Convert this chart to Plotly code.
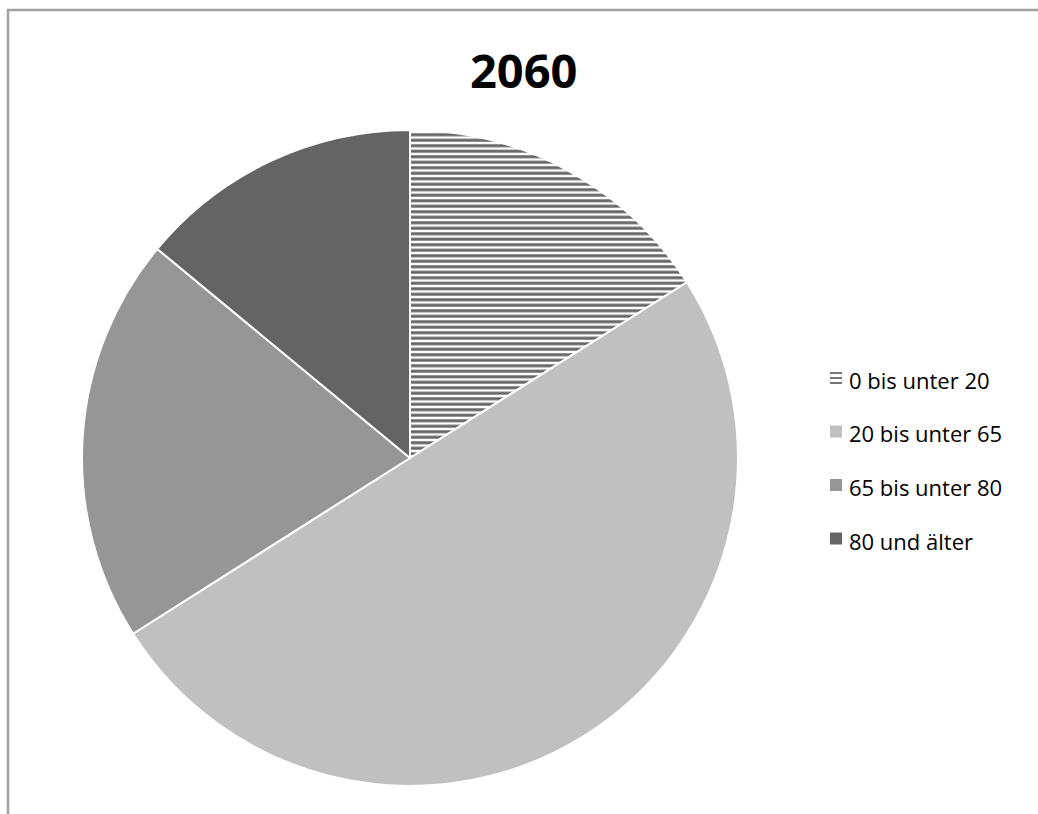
import plotly.graph_objects as go

title_text = "2060"
categories = ["0 bis unter 20", "20 bis unter 65", "65 bis unter 80", "80 und älter"]
values = [16, 50, 20, 14]
colors = ["#ffffff", "#c0c0c0", "#969696", "#646464"]
patterns = ["-", "", "", ""]

W, H = 1038, 814
cx, cy, r = 410, 458, 328

fig = go.Figure()
fig.add_trace(go.Pie(
    labels=categories,
    values=values,
    sort=False,
    direction="clockwise",
    rotation=0,
    textinfo="none",
    hoverinfo="label+percent",
    marker=dict(
        colors=colors,
        line=dict(color="#ffffff", width=2),
        pattern=dict(shape=patterns, fgcolor="#666666", bgcolor="#ffffff",
                     size=5.5, solidity=0.55, fillmode="replace"),
    ),
    domain=dict(x=[(cx - r) / W, (cx + r) / W], y=[1 - (cy + r) / H, 1 - (cy - r) / H]),
    showlegend=False,
))

shapes = [
    dict(type="rect", xref="paper", yref="paper",
         x0=8 / W, x1=1.2, y0=-0.2, y1=1 - 10 / H,
         line=dict(color="#a0a0a0", width=2.5), fillcolor="rgba(0,0,0,0)", layer="below"),
]
annotations = [
    dict(text="<b>" + title_text + "</b>", x=524 / W, y=1 - 70 / H, xref="paper", yref="paper",
         xanchor="center", yanchor="middle", showarrow=False,
         font=dict(family="Open Sans", size=47, color="#000000")),
]

leg_y = [378, 431.5, 485, 538.5]
mx0, mx1 = 830, 842
for i, (cat, col, pat) in enumerate(zip(categories, colors, patterns)):
    yc = leg_y[i]
    if pat == "-":
        for dy in (-5, 0, 5):
            shapes.append(dict(type="line", xref="paper", yref="paper",
                               x0=mx0 / W, x1=mx1 / W, y0=1 - (yc + dy) / H, y1=1 - (yc + dy) / H,
                               line=dict(color="#777777", width=2)))
    else:
        shapes.append(dict(type="rect", xref="paper", yref="paper",
                           x0=mx0 / W, x1=mx1 / W, y0=1 - (yc + 6) / H, y1=1 - (yc - 6) / H,
                           line=dict(width=0), fillcolor=col))
    annotations.append(dict(text=cat, x=847 / W, y=1 - (yc + 2) / H, xref="paper", yref="paper",
                            xanchor="left", yanchor="middle", showarrow=False,
                            font=dict(family="Open Sans", size=22, color="#000000")))

fig.update_layout(
    width=W, height=H,
    margin=dict(l=0, r=0, t=0, b=0),
    paper_bgcolor="#ffffff",
    plot_bgcolor="#ffffff",
    shapes=shapes,
    annotations=annotations,
)

fig.write_html("out.html")
